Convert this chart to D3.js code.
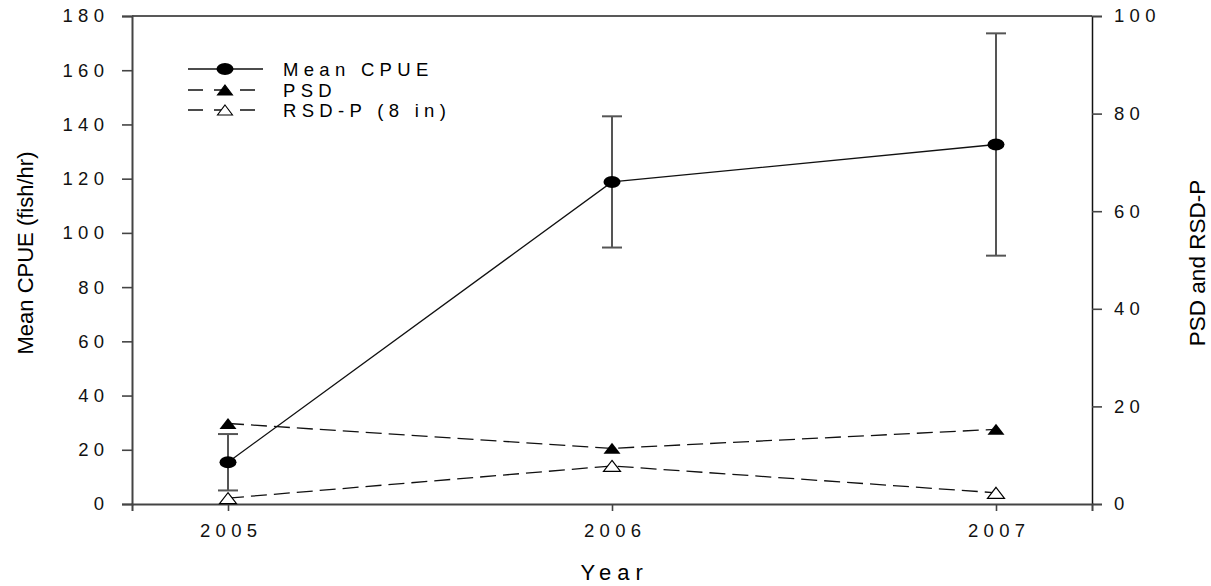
<!DOCTYPE html>
<html>
<head>
<meta charset="utf-8">
<script src="https://cdn.jsdelivr.net/npm/d3@7"></script>
<style>
  html, body { margin: 0; padding: 0; background: #fff; }
  svg { display: block; font-family: "Liberation Sans", Arial, sans-serif; }
</style>
</head>
<body>
<svg id="chart" width="1211" height="586"></svg>
<script>
// Survey data by year
const years = [2005, 2006, 2007];
const cpueMean = [15.4, 118.8, 132.6];   // fish/hr
const cpueErr = [10.4, 24.2, 41.0];      // error bar half-width
const psd = [16.5, 11.4, 15.3];
const rsdP = [1.2, 7.8, 2.3];

const leftTicks = [0, 20, 40, 60, 80, 100, 120, 140, 160, 180];
const rightTicks = [0, 20, 40, 60, 80, 100];
const legendLabels = ["Mean CPUE", "PSD", "RSD-P (8 in)"];

const svg = d3.select("#chart");
const m = { left: 132, right: 1092, top: 16, bottom: 504 };
const LS = 5.3;      // letter spacing used on tick and legend text
const FS = "18.5px"; // tick and legend font size

const x = d3.scaleLinear().domain([2004.75, 2007.25]).range([m.left, m.right]);
const yL = d3.scaleLinear().domain([0, 180]).range([m.bottom, m.top]);
const yR = d3.scaleLinear().domain([0, 100]).range([m.bottom, m.top]);

// top frame line
svg.append("line")
  .attr("x1", m.left).attr("x2", m.right)
  .attr("y1", m.top).attr("y2", m.top)
  .attr("stroke", "#222").attr("stroke-width", 1.3);

// left axis
const gL = svg.append("g").attr("transform", `translate(${m.left},0)`)
  .call(d3.axisLeft(yL).tickValues(leftTicks).tickSize(10).tickFormat(d3.format("d")));
// right axis
const gR = svg.append("g").attr("transform", `translate(${m.right},0)`)
  .call(d3.axisRight(yR).tickValues(rightTicks).tickSize(10).tickPadding(12).tickFormat(d3.format("d")));
// bottom axis
const gB = svg.append("g").attr("transform", `translate(0,${m.bottom})`)
  .call(d3.axisBottom(x).tickValues(years).tickSize(7).tickFormat(d3.format("d")));

[gL, gR, gB].forEach(g => {
  g.select(".domain").attr("stroke", "#444").attr("stroke-width", 2);
  g.selectAll(".tick line").attr("stroke", "#444").attr("stroke-width", 1.6);
  g.selectAll(".tick text")
    .attr("fill", "#111")
    .style("font-size", FS)
    .style("letter-spacing", LS + "px");
});
gR.select(".domain").attr("stroke", "#111").attr("stroke-width", 1.5);
gB.selectAll(".tick text").attr("y", 33).attr("dy", null).attr("dx", LS / 2);
// visible right edge of left labels sits at x = 104
gL.selectAll(".tick text").attr("x", 104 - m.left + LS);

// axis titles
svg.append("text")
  .attr("x", 612 + LS / 2).attr("y", 580)
  .attr("text-anchor", "middle")
  .style("font-size", "22px").style("letter-spacing", "6px")
  .text("Year");

svg.append("text")
  .attr("transform", `translate(33,253) rotate(-90)`)
  .attr("text-anchor", "middle")
  .style("font-size", "22px")
  .text("Mean CPUE (fish/hr)");

svg.append("text")
  .attr("transform", `translate(1205,263) rotate(-90)`)
  .attr("text-anchor", "middle")
  .style("font-size", "22.5px")
  .text("PSD and RSD-P");

// marker shapes
const triPath = (w, h) => `M0,${-h / 2}L${w / 2},${h / 2}L${-w / 2},${h / 2}Z`;
const dash = "16,7";

// PSD and RSD-P lines (right axis)
const lineR = d3.line().x((d, i) => x(years[i])).y(d => yR(d));
svg.append("path").attr("d", lineR(psd))
  .attr("fill", "none").attr("stroke", "#111").attr("stroke-width", 1.3)
  .attr("stroke-dasharray", dash);
svg.append("path").attr("d", lineR(rsdP))
  .attr("fill", "none").attr("stroke", "#111").attr("stroke-width", 1.3)
  .attr("stroke-dasharray", dash);

// error bars for mean CPUE
const eb = svg.append("g").attr("stroke", "#555").attr("stroke-width", 2);
years.forEach((yr, i) => {
  const cx = x(yr);
  const top = yL(cpueMean[i] + cpueErr[i]);
  const bot = yL(cpueMean[i] - cpueErr[i]);
  eb.append("line").attr("x1", cx).attr("x2", cx).attr("y1", top).attr("y2", bot);
  eb.append("line").attr("x1", cx - 10).attr("x2", cx + 10).attr("y1", top).attr("y2", top);
  eb.append("line").attr("x1", cx - 10).attr("x2", cx + 10).attr("y1", bot).attr("y2", bot);
});

// mean CPUE line (left axis)
const lineL = d3.line().x((d, i) => x(years[i])).y(d => yL(d));
svg.append("path").attr("d", lineL(cpueMean))
  .attr("fill", "none").attr("stroke", "#111").attr("stroke-width", 1.3);

// markers
svg.selectAll(".mk-psd").data(psd).join("path")
  .attr("class", "mk-psd")
  .attr("transform", (d, i) => `translate(${x(years[i])},${yR(d)})`)
  .attr("d", triPath(17, 11)).attr("fill", "#000");
svg.selectAll(".mk-rsd").data(rsdP).join("path")
  .attr("class", "mk-rsd")
  .attr("transform", (d, i) => `translate(${x(years[i])},${yR(d)})`)
  .attr("d", triPath(17, 11)).attr("fill", "#fff").attr("stroke", "#000").attr("stroke-width", 1.2);
svg.selectAll(".mk-cpue").data(cpueMean).join("ellipse")
  .attr("class", "mk-cpue")
  .attr("cx", (d, i) => x(years[i])).attr("cy", d => yL(d))
  .attr("rx", 8.5).attr("ry", 6).attr("fill", "#000");

// legend
const lg = svg.append("g");
const rowY = [69, 90, 110];
const lxm = 225;
rowY.forEach((ry, i) => {
  lg.append("line").attr("x1", 188).attr("x2", i === 0 ? 263 : 257).attr("y1", ry).attr("y2", ry)
    .attr("stroke", "#111").attr("stroke-width", 1.3)
    .attr("stroke-dasharray", i === 0 ? null : "15,11");
  if (i === 0) {
    lg.append("ellipse").attr("cx", lxm).attr("cy", ry).attr("rx", 8.5).attr("ry", 6).attr("fill", "#000");
  } else {
    lg.append("path").attr("transform", `translate(${lxm},${ry})`).attr("d", triPath(15, 10))
      .attr("fill", i === 1 ? "#000" : "#fff").attr("stroke", "#000").attr("stroke-width", 1.1);
  }
  lg.append("text").attr("x", 283).attr("y", ry).attr("dy", "0.36em")
    .style("font-size", FS).style("letter-spacing", LS + "px")
    .text(legendLabels[i]);
});
</script>
</body>
</html>
